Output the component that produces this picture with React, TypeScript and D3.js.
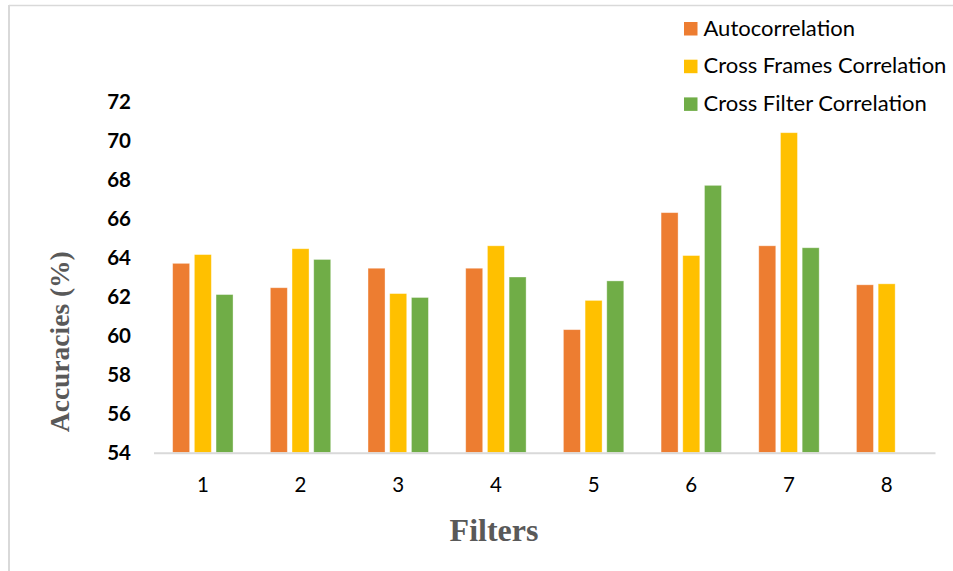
import React from "react";
import * as d3 from "d3";

// Filter indices along the x axis
const filters = ["1", "2", "3", "4", "5", "6", "7", "8"];

// Accuracy (%) per filter for each correlation method (filter 8 has no cross-filter value)
const autocorrelation = [63.7, 62.45, 63.45, 63.45, 60.3, 66.3, 64.6, 62.6];
const crossFrames = [64.15, 64.45, 62.15, 64.6, 61.8, 64.1, 70.4, 62.65];
const crossFilter: (number | null)[] = [62.1, 63.9, 61.95, 63.0, 62.8, 67.7, 64.5, null];

const seriesNames = ["Autocorrelation", "Cross Frames Correlation", "Cross Filter Correlation"];
const seriesColors = ["#ED7D31", "#FFC000", "#70AD47"];

const yTicks = [54, 56, 58, 60, 62, 64, 66, 68, 70, 72];

const W = 953;
const H = 571;

export default function App() {
  const plotLeft = 154;
  const plotRight = 935.5;
  const yBase = 452.5;
  const yTop = 101.5;

  const x = d3.scaleBand<string>().domain(filters).range([plotLeft, plotRight]);
  const y = d3.scaleLinear().domain([54, 72]).range([yBase, yTop]);

  const barW = 17;
  const barStep = 21.7;

  const series = [autocorrelation, crossFrames, crossFilter];

  return (
    <svg
      width={W}
      height={H}
      style={{ position: "absolute", left: 0, top: 0, background: "#fff" }}
    >
      {/* outer frame */}
      <line x1={9} y1={5.5} x2={W} y2={5.5} stroke="#d9d9d9" strokeWidth={1.5} />
      <line x1={9} y1={5} x2={9} y2={H} stroke="#d9d9d9" strokeWidth={2} />

      {/* bars */}
      {series.map((vals, si) =>
        vals.map((v, i) => {
          if (v === null) return null;
          const cx = (x(filters[i]) as number) + x.bandwidth() / 2;
          const bx = cx + (si - 1) * barStep - barW / 2;
          const by = y(v);
          return (
            <rect
              key={`${si}-${i}`}
              x={bx}
              y={by}
              width={barW}
              height={yBase - by}
              fill={seriesColors[si]}
              stroke="#ffffff"
              strokeOpacity={0.45}
              strokeWidth={0.8}
            />
          );
        })
      )}

      {/* x axis line */}
      <line x1={plotLeft} y1={453.3} x2={plotRight} y2={453.3} stroke="#d9d9d9" strokeWidth={2} />

      {/* y tick labels */}
      {yTicks.map((t) => (
        <text
          key={t}
          x={131}
          y={y(t)}
          dy="0.36em"
          textAnchor="end"
          fontFamily="Lato, 'Open Sans', sans-serif"
          fontWeight="bold"
          fontSize={20.5}
          fill="#000"
        >
          {t}
        </text>
      ))}

      {/* x tick labels */}
      {filters.map((f) => (
        <text
          key={f}
          x={(x(f) as number) + x.bandwidth() / 2}
          y={492}
          textAnchor="middle"
          fontFamily="Lato, 'Open Sans', sans-serif"
          fontSize={20.5}
          fill="#000"
        >
          {f}
        </text>
      ))}

      {/* axis titles */}
      <text
        transform="translate(68.5,341.7) rotate(-90)"
        textAnchor="middle"
        fontFamily="'Liberation Serif', 'Times New Roman', serif"
        fontWeight="bold"
        fontSize={27.5}
        fill="#595959"
      >
        Accuracies (%)
      </text>
      <text
        x={494}
        y={541}
        textAnchor="middle"
        fontFamily="'Liberation Serif', 'Times New Roman', serif"
        fontWeight="bold"
        fontSize={32}
        fill="#595959"
      >
        Filters
      </text>

      {/* legend */}
      {seriesNames.map((name, i) => {
        const baseY = 35.5 + i * 37.7;
        return (
          <g key={name}>
            <rect x={684} y={baseY - 13.5} width={13.5} height={13.5} fill={seriesColors[i]} />
            <text
              x={703.5}
              y={baseY}
              fontFamily="Lato, 'Open Sans', sans-serif"
              fontSize={22}
              fill="#000"
            >
              {name}
            </text>
          </g>
        );
      })}
    </svg>
  );
}
